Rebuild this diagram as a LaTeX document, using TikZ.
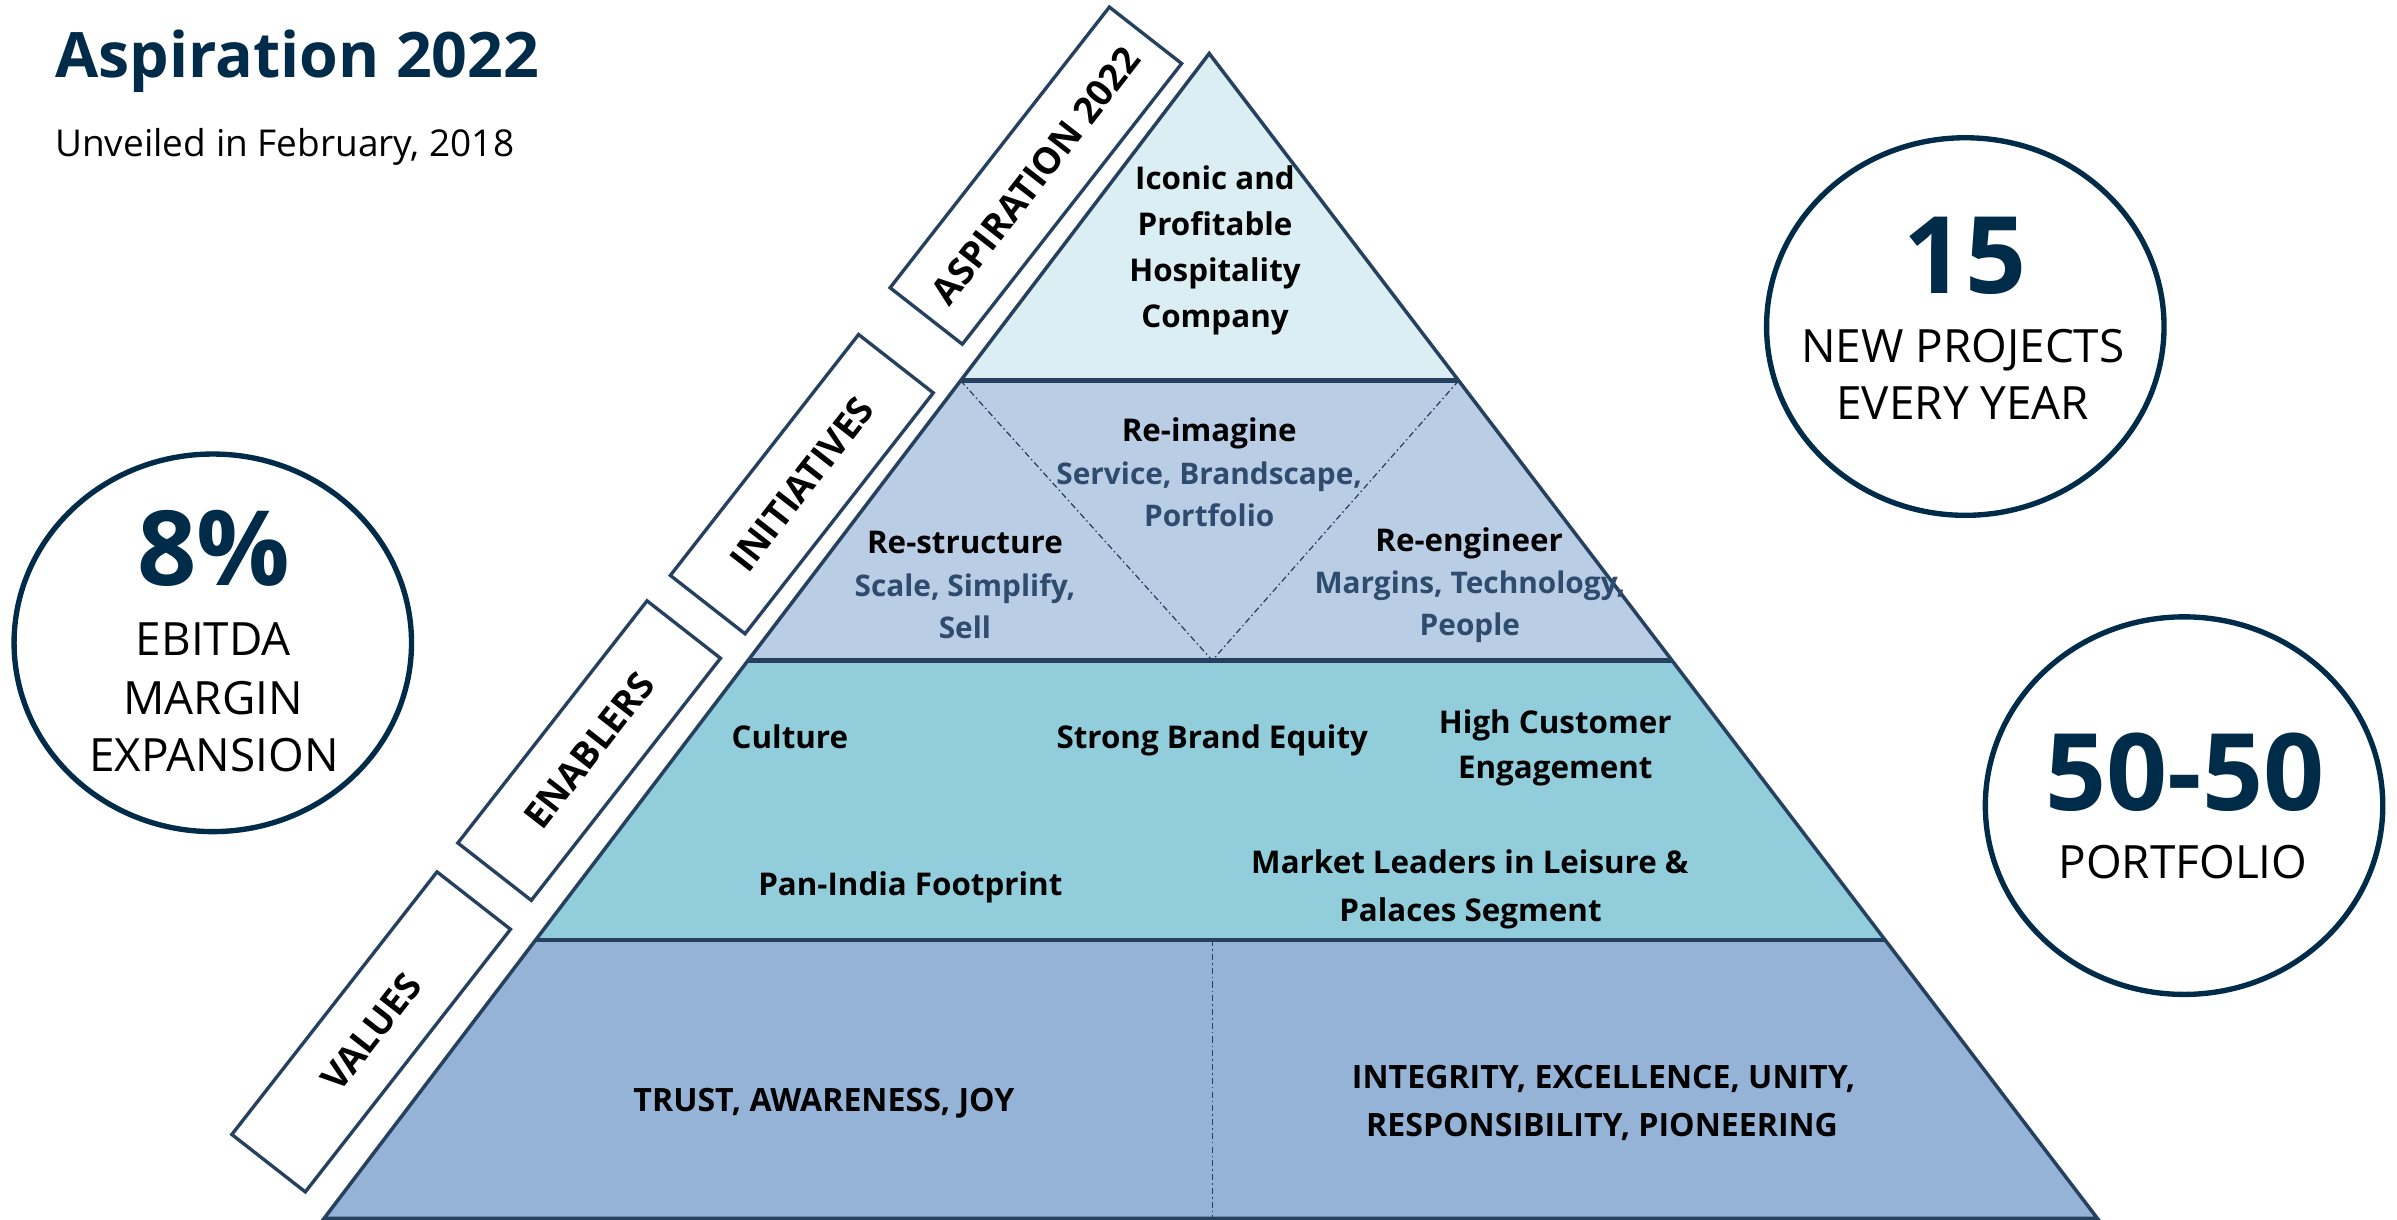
\documentclass[tikz,border=0pt]{standalone}
\usepackage{fontspec}
\setmainfont{Open Sans}
\usetikzlibrary{shapes.geometric}
\definecolor{navy}{HTML}{002B49}
\definecolor{edge}{HTML}{26405F}
\definecolor{tierA}{HTML}{DAEEF3}
\definecolor{tierB}{HTML}{B9CDE5}
\definecolor{tierC}{HTML}{92CDDC}
\definecolor{tierD}{HTML}{95B3D7}
\definecolor{subtxt}{HTML}{2F4B6E}
\begin{document}
\begin{tikzpicture}[x=1pt,y=-1pt,
  bigcirc/.style={draw=navy, line width=3.5pt, ellipse, minimum width=260pt, minimum height=247pt, inner sep=0pt},
  labbox/.style={draw=edge, line width=2.2pt, fill=white, rotate=52, inner sep=0pt, font=\fontsize{24}{28}\selectfont\bfseries},
  ptxt/.style={anchor=base, inner sep=0pt, font=\fontsize{20.5}{24}\selectfont\bfseries},
  vtxt/.style={anchor=base, inner sep=0pt, font=\fontsize{21}{24}\selectfont\bfseries},
  stxt/.style={anchor=base, inner sep=0pt, text=subtxt, font=\fontsize{19.5}{24}\selectfont\bfseries},
  ctxt/.style={anchor=base, inner sep=0pt, font=\fontsize{30}{36}\selectfont},
  cnum/.style={anchor=base, inner sep=0pt, text=navy, font=\fontsize{70}{80}\selectfont\bfseries},
  sep/.style={draw=edge, line width=3pt},
  dd/.style={draw=edge, line width=0.8pt, dash pattern=on 4pt off 2pt on 1pt off 2pt}
]
\useasboundingbox (0,0) rectangle (1568,798);

% pyramid geometry
\coordinate (apex) at (791,35);
\coordinate (l1) at (628.4,249); \coordinate (r1) at (954.2,249);
\coordinate (l2) at (489.3,432); \coordinate (r2) at (1093.7,432);
\coordinate (l3) at (350.3,615); \coordinate (r3) at (1233.2,615);
\coordinate (bl) at (212,797);  \coordinate (br) at (1372,797);
\coordinate (vtip) at (793,432);
\coordinate (vtop) at (793,615); \coordinate (vbot) at (793,797);

\fill[tierA] (apex) -- (r1) -- (l1) -- cycle;
\fill[tierB] (l1) -- (r1) -- (r2) -- (l2) -- cycle;
\fill[tierC] (l2) -- (r2) -- (r3) -- (l3) -- cycle;
\fill[tierD] (l3) -- (r3) -- (br) -- (bl) -- cycle;
\draw[dd] (l1) -- (vtip) -- (r1);
\draw[dd] (vtop) -- (vbot);
\draw[sep] (l1) -- (r1);
\draw[sep] (l2) -- (r2);
\draw[sep] (l3) -- (r3);
\draw[edge, line width=2.3pt] (bl) -- (apex) -- (br) -- cycle;

% side label boxes
\node[labbox, minimum width=233pt, minimum height=60pt] (bAsp) at (677.6,114.9) {ASPIRATION 2022};
\node[labbox, minimum width=200pt, minimum height=62pt] (bIni) at (524.5,316.7) {INITIATIVES};
\node[labbox, minimum width=201pt, minimum height=61pt] (bEna) at (385.4,491) {ENABLERS};
\node[labbox, minimum width=218pt, minimum height=61pt] (bVal) at (242.8,675) {VALUES};

% circles
\node[bigcirc] (c8) at (139.2,420.5) {};
\node[bigcirc] (c15) at (1285.6,213.6) {};
\node[bigcirc] (c50) at (1428.7,527) {};

% title
\node[anchor=base west, inner sep=0pt, text=navy, font=\fontsize{41}{48}\selectfont\bfseries] (title) at (36,50.6) {Aspiration 2022};
\node[anchor=base west, inner sep=0pt, font=\fontsize{24.2}{28}\selectfont] (subtitle) at (36,102.5) {Unveiled in February, 2018};

% circle texts
\node[cnum, font=\fontsize{68}{80}\selectfont\bfseries] (n8) at (140,382.7) {8\%};
\node[ctxt] (t8a) at (139.5,429) {EBITDA};
\node[ctxt] (t8b) at (139.5,467.4) {MARGIN};
\node[ctxt] (t8c) at (140,504.9) {EXPANSION};
\node[cnum] (n15) at (1285.4,192.3) {15};
\node[ctxt] (t15a) at (1284,237.2) {NEW PROJECTS};
\node[ctxt] (t15b) at (1284,274.5) {EVERY YEAR};
\node[cnum] (n50) at (1429.4,529.9) {50-50};
\node[ctxt] (t50) at (1428,574.6) {PORTFOLIO};

% aspiration tier
\node[ptxt] (a1) at (794.8,124) {Iconic and};
\node[ptxt] (a2) at (794.8,154) {Profitable};
\node[ptxt] (a3) at (794.8,184) {Hospitality};
\node[ptxt] (a4) at (794.8,214) {Company};

% initiatives tier
\node[ptxt] (i1) at (791,288.5) {Re-imagine};
\node[stxt] (i1s) at (791,316.9) {Service, Brandscape,};
\node[stxt] (i1t) at (791,344.6) {Portfolio};
\node[ptxt] (i2) at (631.2,362.1) {Re-structure};
\node[stxt] (i2s) at (631.2,389.9) {Scale, Simplify,};
\node[stxt] (i2t) at (631.2,417.6) {Sell};
\node[ptxt] (i3) at (961,360.5) {Re-engineer};
\node[stxt] (i3s) at (961.5,388.4) {Margins, Technology,};
\node[stxt] (i3t) at (961.5,416) {People};

% enablers tier
\node[ptxt] (e1) at (516.7,489.4) {Culture};
\node[ptxt] (e2) at (793,489.4) {Strong Brand Equity};
\node[ptxt] (e3) at (1017.4,479.9) {High Customer};
\node[ptxt] (e3b) at (1017.4,509.4) {Engagement};
\node[ptxt] (e4) at (595.5,585.9) {Pan-India Footprint};
\node[ptxt] (e5) at (961.5,571.4) {Market Leaders in Leisure \&};
\node[ptxt] (e5b) at (961.9,602.5) {Palaces Segment};

% values tier
\node[vtxt] (v1) at (539,727.3) {TRUST, AWARENESS, JOY};
\node[vtxt] (v2) at (1049,712.3) {INTEGRITY, EXCELLENCE, UNITY,};
\node[vtxt] (v2b) at (1048,743.4) {RESPONSIBILITY, PIONEERING};
\end{tikzpicture}
\end{document}
